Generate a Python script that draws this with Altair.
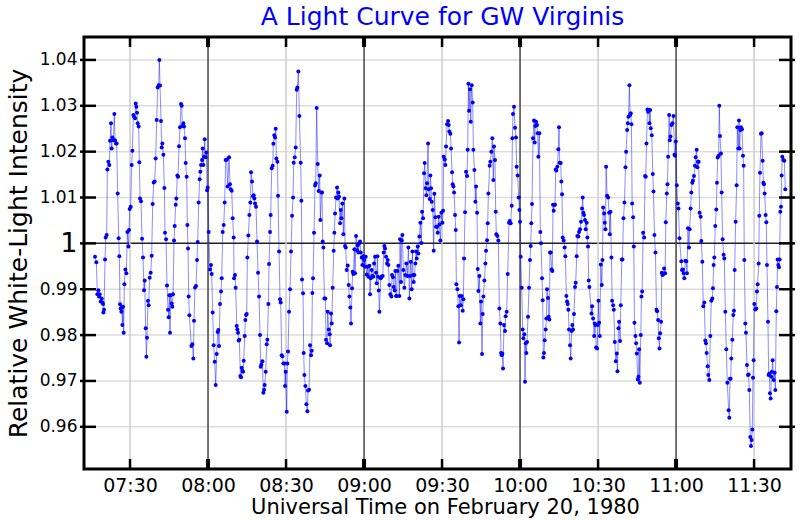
import altair as alt
import pandas as pd

# ---- Light-curve samples: [minutes after 07:00 UT, relative intensity] ----
seg_a = [
    (16.54, 0.9971), (17.05, 0.9959), (17.44, 0.9889), (17.82, 0.9898), (18.08, 0.9884), (18.33, 0.9889),
    (18.72, 0.9873), (19.10, 0.9880), (19.36, 0.9871), (19.62, 0.9868), (19.74, 0.9849), (20.00, 0.9855),
    (20.39, 0.9965), (20.64, 1.0013), (21.03, 1.0018), (21.28, 1.0161), (21.67, 1.0178), (22.05, 1.0171),
    (22.31, 1.0224), (22.69, 1.0262), (22.95, 1.0207), (23.21, 1.0231), (23.59, 1.0225), (23.97, 1.0282),
    (24.23, 1.0225), (24.62, 1.0218), (24.87, 1.0218), (25.26, 1.0109), (25.64, 1.0011), (25.90, 0.9972),
    (26.15, 0.9867), (26.41, 0.9858), (26.67, 0.9851), (26.80, 0.9860), (27.05, 0.9822), (27.31, 0.9862),
    (27.56, 0.9805), (27.82, 0.9911), (28.21, 0.9943), (28.59, 0.9935), (28.97, 1.0025), (29.36, 0.9993),
    (29.62, 1.0029), (29.87, 1.0075), (30.26, 1.0080), (30.64, 1.0171), (30.90, 1.0202), (31.28, 1.0280),
    (31.67, 1.0275), (31.92, 1.0273), (32.18, 1.0305), (32.44, 1.0298), (32.69, 1.0285), (32.95, 1.0262),
    (33.33, 1.0255), (33.59, 1.0177), (33.85, 1.0098), (34.23, 1.0092), (34.62, 1.0010), (35.00, 0.9969),
    (35.38, 0.9898), (35.64, 0.9919), (36.03, 0.9815), (36.28, 0.9753), (36.54, 0.9794), (36.92, 0.9875),
    (37.18, 0.9865), (37.56, 0.9925), (37.95, 0.9936), (38.33, 0.9973), (38.72, 1.0086), (39.10, 1.0133),
    (39.49, 1.0135), (39.87, 1.0185), (40.26, 1.0269), (40.64, 1.0340), (41.03, 1.0345), (41.28, 1.0400),
    (41.54, 1.0344), (41.92, 1.0267), (42.18, 1.0209), (42.44, 1.0218), (42.82, 1.0193), (43.21, 1.0121),
    (43.46, 1.0023), (43.85, 1.0009), (44.23, 0.9908), (44.62, 0.9855), (44.87, 0.9839), (45.13, 0.9887),
    (45.38, 0.9805), (45.64, 0.9887), (46.03, 0.9869), (46.28, 0.9862), (46.54, 0.9889), (46.92, 1.0006),
    (47.18, 1.0038), (47.56, 1.0084), (47.82, 1.0098), (48.21, 1.0148), (48.46, 1.0145), (48.85, 1.0212),
    (49.23, 1.0253), (49.62, 1.0304), (49.87, 1.0300), (50.13, 1.0256), (50.51, 1.0262), (50.77, 1.0255),
    (51.15, 1.0229), (51.41, 1.0175), (51.79, 1.0145), (52.05, 1.0040), (52.31, 0.9989), (52.56, 0.9884),
    (52.82, 0.9843),
]
seg_b = [
    (53.59, 0.9776), (53.97, 0.9780), (54.36, 0.9749), (54.61, 0.9831), (55.00, 0.9904), (55.38, 0.9907),
    (55.77, 0.9964), (56.03, 1.0003), (56.41, 1.0089), (56.79, 1.0140), (57.05, 1.0156), (57.31, 1.0171),
    (57.69, 1.0182), (57.95, 1.0207), (58.20, 1.0171), (58.46, 1.0189), (58.72, 1.0227), (59.10, 1.0188),
    (59.36, 1.0198), (59.62, 1.0116), (59.87, 1.0122), (60.26, 1.0025), (60.77, 0.9943), (61.15, 0.9953),
    (61.41, 0.9933), (61.79, 0.9849), (62.18, 0.9778), (62.56, 0.9742), (62.95, 0.9691), (63.33, 0.9759),
    (63.72, 0.9807), (63.97, 0.9811), (64.23, 0.9776), (64.61, 0.9868), (65.00, 0.9895), (65.26, 0.9924),
    (65.64, 1.0025), (66.03, 1.0040), (66.41, 1.0089), (66.79, 1.0182), (67.18, 1.0183), (67.56, 1.0124),
    (68.08, 1.0188), (68.46, 1.0129), (68.72, 1.0118), (69.10, 1.0115), (69.49, 1.0055), (69.87, 1.0013),
    (70.00, 0.9924), (70.38, 0.9931), (70.64, 0.9903), (71.03, 0.9820), (71.28, 0.9812), (71.54, 0.9805),
    (71.79, 0.9788), (72.05, 0.9790), (72.44, 0.9711), (72.69, 0.9708), (72.95, 0.9729), (73.21, 0.9722),
    (73.46, 0.9720), (73.72, 0.9744), (74.10, 0.9798), (74.36, 0.9833), (74.62, 0.9844), (74.87, 0.9846),
    (75.13, 0.9969), (75.51, 1.0017), (75.90, 1.0062), (76.28, 1.0089), (76.54, 1.0155), (76.92, 1.0135),
    (77.31, 1.0103), (77.56, 1.0105), (77.82, 1.0098), (78.08, 1.0087), (78.46, 1.0080), (78.85, 1.0004),
    (79.23, 0.9936), (79.62, 0.9884), (80.00, 0.9800), (80.26, 0.9731), (80.51, 0.9736), (80.90, 0.9743),
    (81.28, 0.9674), (81.54, 0.9681), (81.79, 0.9691), (82.18, 0.9720), (82.56, 0.9780), (82.82, 0.9790),
    (83.21, 0.9868), (83.46, 0.9955), (83.85, 1.0025), (84.10, 1.0062), (84.49, 1.0164), (84.87, 1.0169),
    (85.13, 1.0217), (85.51, 1.0236), (85.77, 1.0231), (86.03, 1.0250), (86.28, 1.0185), (86.67, 1.0178),
    (86.92, 1.0104), (87.31, 0.9982), (87.69, 0.9878), (87.95, 0.9871), (88.33, 0.9756), (88.59, 0.9754),
    (88.97, 0.9738), (89.36, 0.9738), (89.62, 0.9689), (89.87, 0.9720), (90.26, 0.9633), (90.51, 0.9738),
    (90.77, 0.9764),
]
seg_c = [
    (91.15, 0.9851), (91.54, 0.9900), (91.92, 0.9982), (92.31, 1.0060), (92.69, 1.0100), (92.95, 1.0176),
    (93.33, 1.0188), (93.72, 1.0209), (94.10, 1.0335), (94.36, 1.0340), (94.74, 1.0375), (95.13, 1.0278),
    (95.64, 1.0176), (95.90, 1.0093), (96.15, 0.9921), (96.54, 0.9891), (96.79, 0.9761), (97.05, 0.9713),
    (97.44, 0.9689), (97.82, 0.9649), (98.21, 0.9634), (98.46, 0.9679), (98.85, 0.9681), (99.23, 0.9778),
    (99.62, 0.9756), (99.87, 0.9766), (100.13, 0.9892), (100.38, 0.9924), (100.77, 1.0023), (101.15, 1.0126),
    (101.41, 1.0131), (101.79, 1.0295), (102.18, 1.0173), (102.56, 1.0114), (102.95, 1.0148), (103.20, 1.0051),
    (103.59, 1.0111), (103.85, 1.0111), (104.10, 1.0004), (104.36, 0.9991), (104.74, 0.9880), (105.13, 0.9880),
    (105.38, 0.9790), (105.77, 0.9782), (106.03, 0.9851), (106.41, 0.9812), (106.79, 0.9802), (106.92, 0.9778),
    (107.31, 0.9847), (107.56, 0.9825), (107.95, 0.9903), (108.33, 0.9984), (108.59, 1.0023), (108.85, 1.0065),
    (109.23, 1.0100), (109.62, 1.0122), (109.87, 1.0098), (110.13, 1.0111), (110.38, 1.0102), (110.77, 1.0044),
    (111.03, 1.0073), (111.28, 1.0055), (111.67, 1.0087), (112.05, 1.0020), (112.44, 1.0098), (112.69, 0.9994),
    (112.95, 0.9991), (113.33, 0.9942), (113.72, 0.9952), (114.10, 0.9909), (114.36, 0.9884), (114.74, 0.9860),
    (115.00, 0.9825), (115.38, 0.9902), (115.64, 0.9938), (115.90, 0.9933), (116.28, 0.9987), (116.54, 0.9935),
    (116.92, 1.0016), (117.31, 0.9985), (117.56, 0.9996), (117.82, 0.9980), (118.08, 1.0000), (118.46, 1.0004),
    (118.72, 0.9980), (119.10, 0.9969), (119.36, 0.9953), (119.74, 0.9972), (120.00, 0.9964), (120.38, 0.9949),
    (120.64, 0.9971), (121.03, 0.9932), (121.41, 0.9949), (121.67, 0.9927), (122.05, 0.9951), (122.31, 0.9889),
    (122.56, 0.9924), (122.95, 0.9942), (123.20, 0.9929), (123.59, 0.9927), (123.85, 0.9956), (124.23, 0.9971),
    (124.62, 0.9936), (124.87, 0.9913), (125.13, 0.9972), (125.38, 0.9927), (125.64, 0.9897), (125.90, 0.9851),
]
seg_d = [
    (126.41, 0.9924), (126.79, 0.9927), (127.18, 0.9929), (127.56, 0.9980), (127.82, 0.9994), (128.08, 0.9989),
    (128.46, 0.9971), (128.85, 0.9956), (129.10, 0.9964), (129.36, 0.9953), (129.74, 0.9909), (130.13, 0.9889),
    (130.51, 0.9884), (130.77, 0.9931), (131.15, 0.9926), (131.41, 0.9905), (131.79, 0.9897), (132.05, 0.9940),
    (132.31, 0.9885), (132.56, 0.9885), (132.82, 0.9940), (133.20, 0.9951), (133.59, 0.9885), (133.85, 1.0009),
    (134.23, 0.9916), (134.49, 1.0006), (134.74, 1.0018), (135.13, 0.9942), (135.51, 0.9903), (135.90, 0.9931),
    (136.28, 0.9956), (136.67, 0.9929), (137.05, 0.9991), (137.44, 0.9880), (137.69, 0.9929), (137.95, 0.9960),
    (138.33, 0.9900), (138.59, 0.9982), (138.85, 0.9931), (139.10, 0.9916), (139.36, 0.9931), (139.74, 0.9956),
    (140.00, 0.9982), (140.26, 0.9967), (140.64, 0.9993), (140.90, 0.9978), (141.28, 1.0015), (141.67, 1.0045),
    (142.05, 1.0001), (142.31, 1.0069), (142.69, 1.0055), (143.08, 1.0153), (143.33, 1.0175), (143.72, 1.0120),
    (143.97, 1.0105), (144.23, 1.0131), (144.62, 1.0218), (144.87, 1.0118), (145.26, 1.0097), (145.51, 1.0148),
    (145.77, 1.0120), (146.03, 1.0091), (146.41, 1.0073), (146.79, 0.9984), (147.05, 1.0108), (147.44, 1.0057),
    (147.69, 1.0036), (148.08, 1.0036), (148.33, 1.0023), (148.72, 1.0058), (148.97, 1.0041), (149.36, 1.0006),
    (149.74, 1.0067), (150.13, 1.0045), (150.38, 1.0071), (150.64, 1.0189), (151.03, 1.0183), (151.28, 1.0171),
    (151.54, 1.0211), (151.92, 1.0260), (152.31, 1.0267), (152.56, 1.0258), (152.82, 1.0244), (153.20, 1.0239),
    (153.46, 1.0207), (153.85, 1.0155), (154.10, 1.0129), (154.36, 1.0124), (154.62, 1.0111), (155.00, 1.0062),
    (155.26, 1.0029), (155.51, 0.9911), (155.90, 0.9900), (156.28, 0.9863), (156.54, 0.9784), (156.79, 0.9885),
    (157.18, 0.9865), (157.56, 0.9885), (157.95, 0.9853), (158.20, 0.9878), (158.46, 0.9967), (158.85, 1.0068),
    (159.23, 1.0156), (159.62, 1.0147), (159.87, 1.0204), (160.13, 1.0348), (160.38, 1.0289), (160.77, 1.0336),
    (161.03, 1.0265), (161.41, 1.0345), (161.79, 1.0307), (162.05, 1.0204), (162.44, 1.0160), (162.82, 1.0091),
    (163.08, 1.0124), (163.46, 1.0067), (163.72, 0.9944), (163.97, 0.9896), (164.36, 0.9929), (164.74, 0.9825),
    (165.00, 0.9873), (165.38, 0.9759), (165.64, 0.9846), (165.90, 0.9884), (166.28, 0.9919), (166.67, 0.9956),
    (166.92, 0.9984), (167.31, 1.0007), (167.56, 1.0044), (167.82, 1.0109),
]
seg_e = [
    (168.32, 1.0169), (168.57, 1.0178), (168.96, 1.0200), (169.34, 1.0229), (169.73, 1.0138), (169.98, 1.0211),
    (170.37, 1.0182), (170.63, 1.0069), (170.88, 1.0020), (171.27, 1.0016), (171.65, 1.0006), (172.04, 0.9858),
    (172.42, 0.9825), (172.68, 0.9761), (172.93, 0.9756), (173.19, 0.9760), (173.45, 0.9727), (173.83, 0.9822),
    (174.22, 0.9809), (174.47, 0.9841), (174.86, 0.9851), (175.24, 0.9933), (175.75, 1.0045), (176.01, 1.0049),
    (176.39, 1.0044), (176.78, 1.0082), (177.04, 1.0229), (177.29, 1.0282), (177.68, 1.0298), (178.06, 1.0252),
    (178.45, 1.0231), (178.70, 1.0167), (179.09, 1.0148), (179.47, 1.0100), (179.73, 1.0073), (179.98, 1.0047),
    (180.24, 0.9971), (180.63, 0.9903), (181.01, 0.9812), (181.27, 0.9793), (181.65, 0.9802), (181.91, 0.9698),
    (182.16, 0.9782), (182.42, 0.9761), (182.68, 0.9785), (183.06, 0.9840), (183.45, 0.9903), (183.83, 0.9964),
    (184.09, 0.9994), (184.34, 1.0044), (184.60, 1.0086), (184.98, 1.0229), (185.37, 1.0268), (185.63, 1.0220),
    (185.88, 1.0256), (186.14, 1.0265), (186.52, 1.0258), (186.78, 1.0240), (187.04, 1.0189), (187.42, 1.0240),
    (187.81, 1.0025), (188.06, 1.0000), (188.45, 0.9924), (188.70, 0.9876), (188.96, 0.9751), (189.22, 0.9761),
    (189.47, 0.9789), (189.86, 0.9812), (190.11, 0.9836), (190.37, 0.9900), (190.75, 0.9881), (191.01, 0.9840),
    (191.27, 0.9834), (191.52, 0.9980), (191.78, 0.9980), (192.16, 0.9943), (192.42, 0.9940), (192.68, 1.0084),
    (192.93, 1.0071), (193.19, 1.0084), (193.45, 1.0084), (193.71, 1.0161), (193.96, 1.0159), (194.34, 1.0167),
    (194.73, 1.0205), (194.98, 1.0253), (195.24, 1.0176), (195.63, 1.0175), (195.88, 1.0135), (196.14, 1.0107),
    (196.40, 1.0013), (196.78, 1.0006), (197.16, 0.9991), (197.42, 0.9972), (197.81, 0.9885), (198.06, 0.9873),
    (198.32, 0.9868), (198.57, 0.9855), (198.83, 0.9812), (199.22, 0.9778), (199.47, 0.9749), (199.86, 0.9809),
    (200.11, 0.9822), (200.37, 0.9812), (200.75, 0.9846), (201.14, 0.9905), (201.40, 0.9914), (201.78, 0.9972),
    (202.04, 1.0016), (202.42, 1.0015), (202.68, 1.0025), (203.06, 1.0031), (203.45, 1.0047), (203.83, 1.0076),
    (204.09, 1.0100), (204.34, 1.0067), (204.60, 1.0062), (204.98, 1.0051), (205.24, 1.0031), (205.63, 1.0045),
    (205.88, 1.0013), (206.14, 0.9993), (206.40, 0.9919), (206.65, 0.9905),
]
seg_f = [
    (207.46, 0.9847), (207.72, 0.9863), (208.10, 0.9836), (208.49, 0.9798), (208.74, 0.9825), (209.00, 0.9822),
    (209.25, 0.9773), (209.64, 0.9771), (209.90, 0.9822), (210.15, 0.9875), (210.41, 0.9827), (210.66, 0.9798),
    (211.05, 0.9954), (211.43, 0.9909), (211.69, 0.9964), (211.95, 1.0078), (212.33, 1.0065), (212.59, 1.0045),
    (212.84, 1.0031), (213.10, 1.0167), (213.48, 1.0104), (213.87, 1.0100), (214.25, 1.0067), (214.51, 1.0020),
    (214.77, 1.0069), (215.15, 0.9969), (215.41, 0.9875), (215.79, 0.9865), (216.05, 0.9855), (216.43, 0.9785),
    (216.82, 0.9743), (217.20, 0.9760), (217.46, 0.9721), (217.84, 0.9815), (218.10, 0.9829), (218.48, 0.9787),
    (218.74, 0.9865), (219.13, 0.9965), (219.38, 0.9965), (219.77, 1.0055), (220.15, 1.0089), (220.54, 1.0166),
    (220.79, 1.0200), (221.18, 1.0247), (221.43, 1.0262), (221.69, 1.0276), (222.07, 1.0345), (222.33, 1.0280),
    (222.59, 1.0284), (222.84, 1.0260), (223.10, 1.0087), (223.48, 1.0057), (223.74, 0.9993), (224.00, 0.9827),
    (224.38, 0.9798), (224.64, 0.9782), (224.90, 0.9760), (225.28, 0.9703), (225.54, 0.9709), (225.79, 0.9769),
    (226.05, 0.9696), (226.43, 0.9800), (226.69, 0.9884), (226.95, 0.9895), (227.33, 1.0023), (227.72, 1.0013),
    (228.10, 1.0147), (228.36, 1.0145), (228.61, 1.0218), (229.00, 1.0292), (229.25, 1.0287), (229.51, 1.0291),
    (229.77, 1.0262), (230.02, 1.0291), (230.28, 1.0251), (230.66, 1.0236), (231.05, 1.0151), (231.31, 1.0113),
    (231.69, 1.0018), (232.07, 0.9980), (232.46, 0.9855), (232.72, 0.9852), (233.10, 0.9833), (233.36, 0.9793),
    (233.61, 0.9771), (233.87, 0.9804), (234.25, 0.9829), (234.51, 0.9936), (234.77, 0.9931), (235.15, 0.9933),
    (235.41, 0.9945), (235.79, 0.9935), (236.05, 1.0046), (236.43, 1.0109), (236.69, 1.0129), (236.95, 1.0189),
    (237.33, 1.0280), (237.59, 1.0225), (237.84, 1.0233), (238.23, 1.0258), (238.61, 1.0262), (239.00, 1.0278),
    (239.38, 1.0193), (239.64, 1.0191), (239.90, 1.0222), (240.28, 1.0127), (240.66, 1.0087), (240.92, 1.0076),
    (241.31, 1.0011),
]
seg_g = [
    (242.01, 0.9961), (242.27, 0.9942), (242.65, 0.9943), (242.91, 0.9935), (243.17, 0.9924), (243.55, 0.9962),
    (243.94, 0.9961), (244.19, 0.9935), (244.58, 1.0033), (244.96, 0.9991), (245.22, 1.0031), (245.60, 1.0076),
    (245.86, 1.0111), (246.24, 1.0132), (246.50, 1.0137), (246.88, 1.0147), (247.27, 1.0169), (247.53, 1.0188),
    (247.91, 1.0204), (248.17, 1.0166), (248.42, 1.0178), (248.68, 1.0178), (249.06, 1.0067), (249.45, 1.0058),
    (249.71, 1.0005), (250.09, 0.9960), (250.47, 0.9863), (250.86, 0.9871), (251.24, 0.9788), (251.50, 0.9782),
    (251.76, 0.9761), (252.14, 0.9732), (252.40, 0.9713), (252.78, 0.9702), (253.17, 0.9798), (253.55, 0.9875),
    (253.94, 0.9880), (254.19, 0.9902), (254.45, 0.9953), (254.71, 0.9969), (255.09, 1.0038), (255.47, 1.0074),
    (255.73, 1.0132), (255.99, 1.0187), (256.37, 1.0191), (256.63, 1.0300), (256.88, 1.0234), (257.27, 1.0196),
    (257.53, 1.0111), (257.91, 1.0009), (258.29, 0.9975), (258.55, 0.9967), (258.94, 0.9851), (259.32, 0.9769),
    (259.71, 0.9696), (260.22, 0.9636), (260.47, 0.9620), (260.73, 0.9705), (260.99, 0.9705), (261.24, 0.9749),
    (261.63, 0.9790), (262.01, 0.9844), (262.27, 0.9853), (262.53, 0.9942), (262.91, 1.0047), (263.29, 1.0127),
    (263.55, 1.0253), (263.94, 1.0207), (264.19, 1.0268), (264.45, 1.0207), (264.71, 1.0247), (264.96, 1.0253),
    (265.35, 1.0249), (265.73, 1.0191), (265.99, 1.0169), (266.24, 0.9964), (266.63, 0.9825), (266.88, 0.9805),
    (267.27, 0.9735), (267.65, 0.9713), (267.91, 0.9714), (268.17, 0.9680), (268.55, 0.9578), (268.81, 0.9558),
    (269.06, 0.9571), (269.32, 0.9594), (269.58, 0.9707), (269.83, 0.9745), (270.09, 0.9868), (270.47, 0.9856),
    (270.86, 0.9858), (271.12, 0.9895), (271.37, 0.9911), (271.76, 0.9956), (272.01, 1.0060), (272.27, 1.0154),
    (272.65, 1.0239), (272.91, 1.0240), (273.30, 1.0180), (273.55, 1.0132), (273.81, 1.0129), (274.06, 1.0109),
    (274.45, 1.0062), (274.71, 1.0046), (274.96, 0.9953), (275.35, 0.9829), (275.60, 0.9713), (275.86, 0.9716),
    (276.12, 0.9673), (276.37, 0.9662), (276.63, 0.9709), (276.88, 0.9720), (277.14, 0.9745), (277.53, 0.9702),
    (277.91, 0.9718), (278.17, 0.9680), (278.55, 0.9852), (278.81, 0.9905), (279.06, 0.9965), (279.32, 0.9953),
    (279.58, 0.9948), (279.83, 0.9965), (280.09, 1.0069), (280.35, 1.0080), (280.60, 1.0148), (280.86, 1.0189),
    (281.24, 1.0182), (281.63, 1.0180), (282.01, 1.0118),
]

# ---- Axis ticks ----
y_tick_values = [0.96, 0.97, 0.98, 0.99, 1.0, 1.01, 1.02, 1.03, 1.04]
x_tick_minutes = [30, 60, 90, 120, 150, 180, 210, 240, 270]   # minutes after 07:00 UT
x_domain = [12.3, 284.2]
y_domain = [0.9508, 1.0450]

rows = [{"minute": m, "intensity": v}
        for seg in (seg_a, seg_b, seg_c, seg_d, seg_e, seg_f, seg_g) for m, v in seg]
df = pd.DataFrame(rows)
ydf = pd.DataFrame({"intensity": y_tick_values})
xdf = pd.DataFrame({"minute": x_tick_minutes})

W, H = 707, 432
FONT = "DejaVu Sans"
xs = alt.Scale(domain=x_domain, nice=False, zero=False)
ys = alt.Scale(domain=y_domain, nice=False, zero=False)

x_axis = alt.Axis(
    values=x_tick_minutes,
    labelExpr="timeFormat(datetime(1980, 1, 20, 7, datum.value), '%H:%M')",
    ticks=False, tickSize=0, domain=False, grid=False,
    labelFont=FONT, labelFontSize=19, labelColor="black", labelPadding=7,
    labelOverlap=False, labelFlush=False,
    title="Universal Time on February 20, 1980",
    titleFont=FONT, titleFontSize=21, titleFontWeight="normal", titleColor="black",
    titlePadding=1, titleX=361, titleAlign="center",
)
y_axis = alt.Axis(
    values=y_tick_values,
    labelExpr="abs(datum.value - 1) < 1e-6 ? '1' : format(datum.value, '.2f')",
    ticks=False, tickSize=0, domain=False, grid=False,
    labelFont=FONT, labelColor="black", labelPadding=7,
    labelFontSize=alt.condition("abs(datum.value - 1) < 1e-6", alt.value(27), alt.value(17)),
    labelOverlap=False, labelFlush=False,
    title="Relative White-Light Intensity",
    titleFont=FONT, titleFontSize=25, titleFontWeight="normal", titleColor="black",
    titlePadding=8,
)

X = alt.X("minute:Q", scale=xs, axis=x_axis)
Y = alt.Y("intensity:Q", scale=ys, axis=y_axis)

hgrid = alt.Chart(ydf).mark_rule(strokeWidth=1.5).encode(
    y=Y,
    color=alt.condition("abs(datum.intensity - 1) < 1e-6", alt.value("#222222"), alt.value("#dddddd")),
)
vgrid = alt.Chart(xdf).mark_rule(strokeWidth=1.5).encode(
    x=X,
    color=alt.condition("datum.minute % 60 == 0", alt.value("#444444"), alt.value("#cccccc")),
)

base = alt.Chart(df).encode(x=X, y=Y)
line = base.mark_line(color="#0000ff", strokeWidth=1, opacity=0.45)
pts = base.mark_circle(color="#0000ff", size=16, opacity=1)

left_ticks = alt.Chart(ydf).mark_rule(color="black", strokeWidth=2.5).encode(
    y=Y, x=alt.value(-4), x2=alt.value(12))
right_ticks = alt.Chart(ydf).mark_rule(color="black", strokeWidth=2.5).encode(
    y=Y, x=alt.value(W - 12), x2=alt.value(W + 4))
tick_w = alt.condition("datum.minute % 60 == 0", alt.value(4), alt.value(2.5))
top_ticks = alt.Chart(xdf).mark_rule(color="black").encode(
    x=X, y=alt.value(0), y2=alt.value(10), strokeWidth=tick_w)
bottom_ticks = alt.Chart(xdf).mark_rule(color="black").encode(
    x=X, y=alt.value(H - 10), y2=alt.value(H), strokeWidth=tick_w)

chart = alt.layer(
    hgrid, vgrid, line, pts, left_ticks, right_ticks, top_ticks, bottom_ticks
).properties(
    width=W, height=H,
    autosize=alt.AutoSizeParams(type="none"),
    padding={"left": 84, "top": 37, "right": 9, "bottom": 51},
    background="white",
    title=alt.TitleParams(
        "A Light Curve for GW Virginis", font=FONT, fontSize=25, fontWeight="normal",
        color="blue", anchor="middle", offset=5, dx=5,
    ),
).configure_view(stroke="black", strokeWidth=3)

chart.save("out.html", embed_options={"renderer": "svg", "actions": False})
